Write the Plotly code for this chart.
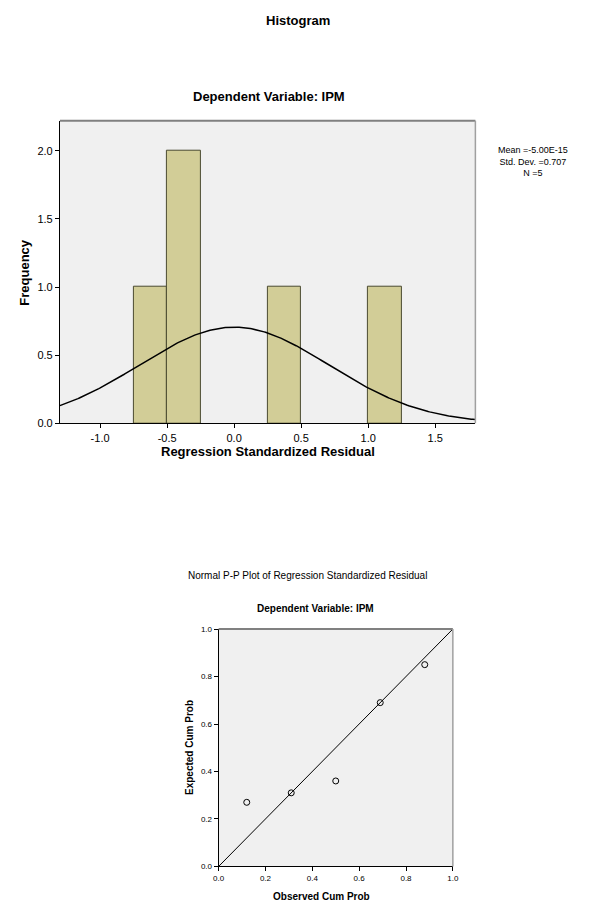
import numpy as np
import plotly.graph_objects as go

# ---- Histogram data ----
bin_left = [-0.75, -0.5, 0.25, 1.0]
bin_width = 0.25
bin_counts = [1, 2, 1, 1]
resid_mean = 0.0
resid_sd = 0.707
n_obs = 5
stats_lines = ["Mean =-5.00E-15", "Std. Dev. =0.707", "N =5"]

# ---- P-P plot data ----
observed_cum = [0.12, 0.31, 0.50, 0.69, 0.88]
expected_cum = [0.27, 0.31, 0.36, 0.69, 0.85]

hist_ticks_x = [-1.0, -0.5, 0.0, 0.5, 1.0, 1.5]
hist_ticks_y = [0.0, 0.5, 1.0, 1.5, 2.0]
pp_ticks = [0.0, 0.2, 0.4, 0.6, 0.8, 1.0]

W, H = 598, 910
def px(x):
    return x / W
def py(y):
    return 1 - y / H

FONT = "Liberation Sans, Arial, sans-serif"

fig = go.Figure()

centers = [l + bin_width / 2 for l in bin_left]
fig.add_trace(go.Bar(
    x=centers, y=bin_counts, width=[bin_width] * len(centers),
    marker=dict(color="#D2CD97", line=dict(color="#4a4a30", width=1)),
    xaxis="x", yaxis="y", showlegend=False, hoverinfo="skip"))

xs = np.linspace(-1.3, 1.8, 300)
curve = n_obs * bin_width / (resid_sd * np.sqrt(2 * np.pi)) * np.exp(-0.5 * ((xs - resid_mean) / resid_sd) ** 2)
fig.add_trace(go.Scatter(x=xs, y=curve, mode="lines",
                         line=dict(color="black", width=1.5),
                         xaxis="x", yaxis="y", showlegend=False, hoverinfo="skip"))

fig.add_trace(go.Scatter(x=[0, 1], y=[0, 1], mode="lines",
                         line=dict(color="black", width=1),
                         xaxis="x2", yaxis="y2", showlegend=False, hoverinfo="skip"))
fig.add_trace(go.Scatter(x=observed_cum, y=expected_cum, mode="markers",
                         marker=dict(symbol="circle-open", size=6, color="black", line=dict(width=1)),
                         xaxis="x2", yaxis="y2", showlegend=False, hoverinfo="skip"))

axis_common = dict(showgrid=False, zeroline=False, ticks="outside", ticklen=4,
                   tickcolor="black", showline=True, linecolor="black", linewidth=1,
                   mirror=False)

fig.update_layout(
    width=W, height=H,
    margin=dict(l=0, r=0, t=0, b=0),
    paper_bgcolor="white", plot_bgcolor="#F0F0F0",
    font=dict(family=FONT, color="black"),
    bargap=0,
    xaxis=dict(domain=[px(55), px(479)], range=[-1.3, 1.8], tickvals=hist_ticks_x,
               ticktext=[f"{v:.1f}" for v in hist_ticks_x], tickfont=dict(size=11),
               anchor="y", **axis_common),
    yaxis=dict(domain=[py(424), py(118)], range=[0, 2.22], tickvals=hist_ticks_y,
               ticktext=[f"{v:.1f}" for v in hist_ticks_y], tickfont=dict(size=11),
               anchor="x", **axis_common),
    xaxis2=dict(domain=[px(217), px(456)], range=[0, 1], tickvals=pp_ticks,
                ticktext=[f"{v:.1f}" for v in pp_ticks], tickfont=dict(size=8),
                anchor="y2", **axis_common),
    yaxis2=dict(domain=[py(872), py(632)], range=[0, 1], tickvals=pp_ticks,
                ticktext=[f"{v:.1f}" for v in pp_ticks], tickfont=dict(size=8),
                anchor="x2", **axis_common),
)

# frame lines (top/right) for both plots
shapes = []
for xd, yd in [((55, 479), (118, 424)), ((217, 456), (632, 872))]:
    shapes.append(dict(type="line", xref="paper", yref="paper",
                       x0=px(xd[0]), x1=px(xd[1]), y0=py(yd[0]), y1=py(yd[0]),
                       line=dict(color="#808080", width=2)))
    shapes.append(dict(type="line", xref="paper", yref="paper",
                       x0=px(xd[1]), x1=px(xd[1]), y0=py(yd[0]), y1=py(yd[1]),
                       line=dict(color="#A0A0A0", width=1.5)))
fig.update_layout(shapes=shapes)

def ann(text, x, y, size, bold=False, angle=0, xanchor="center"):
    t = f"<b>{text}</b>" if bold else text
    fig.add_annotation(text=t, x=px(x), y=py(y), xref="paper", yref="paper",
                       showarrow=False, textangle=angle, xanchor=xanchor, yanchor="middle",
                       font=dict(size=size, family=FONT, color="black"))

ann("Histogram", 298, 17, 13, bold=True)
ann("Dependent Variable: IPM", 268, 94, 13, bold=True)
ann("Frequency", 18, 271, 13, bold=True, angle=-90)
ann("Regression Standardized Residual", 267, 452, 13, bold=True)
fig.add_annotation(text="<br>".join(stats_lines), x=px(538), y=py(159), xref="paper", yref="paper",
                   showarrow=False, align="center", xanchor="center", yanchor="middle",
                   font=dict(size=9, family=FONT, color="black"))

ann("Normal P-P Plot of Regression Standardized Residual", 308, 578, 10, bold=False)
ann("Dependent Variable: IPM", 316, 611, 10, bold=True)
ann("Expected Cum Prob", 187, 752, 10, bold=True, angle=-90)
ann("Observed Cum Prob", 322, 902, 10, bold=True)

fig.write_html("out.html", config={"displayModeBar": False},
               post_script="document.body.style.margin='0px';document.body.style.overflow='hidden';")
